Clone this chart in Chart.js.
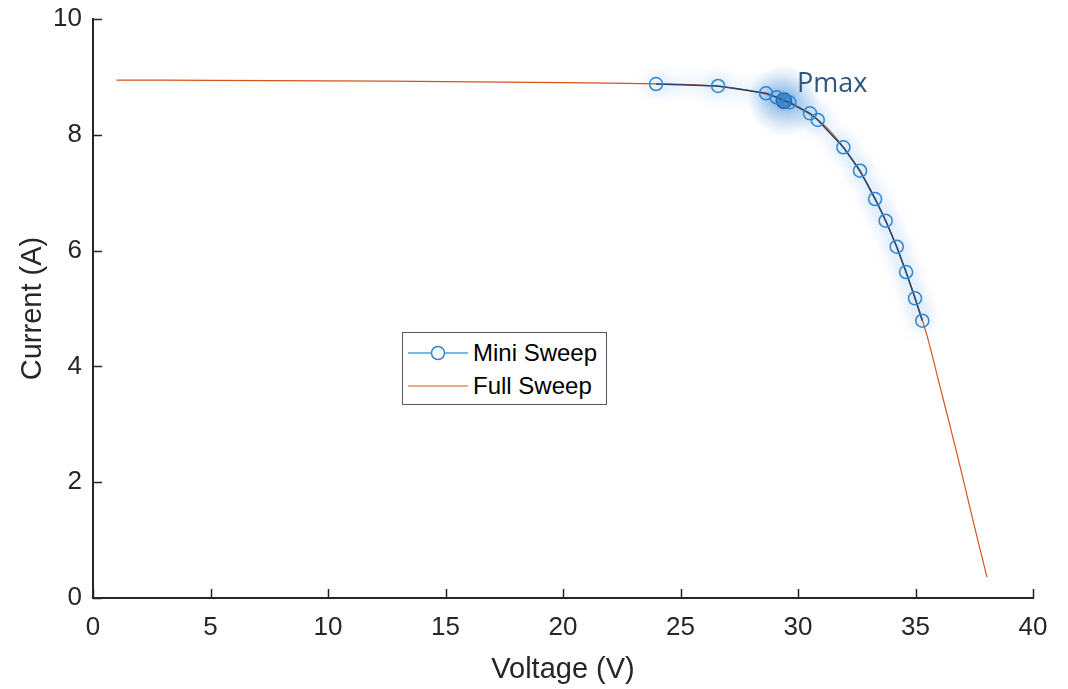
<!DOCTYPE html>
<html>
<head>
<meta charset="utf-8">
<script src="https://cdn.jsdelivr.net/npm/chart.js@4.4.1/dist/chart.umd.min.js"></script>
<style>
  html, body { margin: 0; padding: 0; background: #fff; }
  #wrap { position: relative; width: 1068px; height: 689px; }
  #legenda {
    position: absolute; left: 402px; top: 332px; width: 203px; height: 71px;
    border: 1px solid #5a5a5a; background: #fff;
    font-family: "Liberation Sans", Arial, sans-serif; font-size: 24px; color: #000;
  }
  #legenda .item { position: absolute; left: 0; height: 30px; display: flex; align-items: center; }
  #legenda svg { margin-left: 5px; margin-right: 5px; }
</style>
</head>
<body>
<div id="wrap">
  <canvas id="grafico" width="1068" height="689"></canvas>
  <div id="legenda">
    <div class="item" style="top:5px">
      <svg width="60" height="30"><line x1="0" y1="15" x2="60" y2="15" stroke="#4d9fdc" stroke-width="1.6"/><circle cx="30" cy="15" r="6.5" fill="#fff" stroke="#2e86d0" stroke-width="1.5"/></svg>
      <span>Mini Sweep</span>
    </div>
    <div class="item" style="top:38px">
      <svg width="60" height="30"><line x1="0" y1="15" x2="60" y2="15" stroke="#d95319" stroke-width="1.2"/></svg>
      <span>Full Sweep</span>
    </div>
  </div>
</div>
<script>
(function () {

  // Mini sweep (V, A)
  const miniV = [23.96, 26.60, 28.64, 29.09, 29.40, 29.63, 30.51, 30.84, 31.93, 32.64, 33.28, 33.73, 34.20, 34.60, 34.98, 35.29];
  const miniI = [8.877, 8.843, 8.717, 8.648, 8.589, 8.561, 8.371, 8.256, 7.784, 7.380, 6.891, 6.516, 6.067, 5.630, 5.176, 4.789];

  // Full sweep (V, A)
  const fullV = [1.0, 5, 10, 15, 20, 24, 26, 27, 28, 29, 30, 31, 32, 33, 34, 35, 35.5, 36, 36.5, 37, 37.5, 38.04];
  const fullI = [8.946, 8.94, 8.93, 8.92, 8.90, 8.88, 8.855, 8.82, 8.76, 8.66, 8.47, 8.21, 7.75, 7.12, 6.27, 5.16, 4.52, 3.72, 2.92, 2.10, 1.25, 0.36];

  // Pmax
  const pmaxV = [29.40];
  const pmaxI = [8.589];

  const xTicks = [0, 5, 10, 15, 20, 25, 30, 35, 40];
  const yTicks = [0, 2, 4, 6, 8, 10];

  const pares = (xs, ys) => xs.map((x, i) => ({ x: x, y: ys[i] }));

  const corEixo = "#262626";
  const fonte = "'Liberation Sans', Arial, sans-serif";

  // brilho azul na curva do mini sweep
  const brilho = {
    id: "brilho",
    beforeDatasetDraw(chart, args) {
      if (args.index === 0) {
        chart.ctx.save();
        chart.ctx.shadowColor = "rgba(60,140,225,0.85)";
        chart.ctx.shadowBlur = 16;
      }
    },
    afterDatasetDraw(chart, args) {
      if (args.index === 0) chart.ctx.restore();
    },
    beforeDatasetsDraw(chart) {
      // halo em volta do Pmax
      const ctx = chart.ctx;
      const px = chart.scales.x.getPixelForValue(pmaxV[0]);
      const py = chart.scales.y.getPixelForValue(pmaxI[0]);
      const g = ctx.createRadialGradient(px, py, 0, px, py, 36);
      g.addColorStop(0, "rgba(70,140,215,0.55)");
      g.addColorStop(1, "rgba(70,140,215,0)");
      ctx.save();
      ctx.fillStyle = g;
      ctx.beginPath();
      ctx.arc(px, py, 36, 0, Math.PI * 2);
      ctx.fill();
      ctx.restore();
    }
  };

  // ticks para dentro + rotulo Pmax
  const extras = {
    id: "extras",
    afterDraw(chart) {
      const ctx = chart.ctx;
      const a = chart.chartArea;
      const sx = chart.scales.x, sy = chart.scales.y;
      ctx.save();
      ctx.strokeStyle = corEixo;
      ctx.lineWidth = 1.5;
      ctx.beginPath();
      xTicks.forEach(t => {
        const p = Math.round(sx.getPixelForValue(t)) + 0.5;
        ctx.moveTo(p, a.bottom);
        ctx.lineTo(p, a.bottom - 9);
      });
      yTicks.forEach(t => {
        const p = Math.round(sy.getPixelForValue(t)) + 0.5;
        ctx.moveTo(a.left, p);
        ctx.lineTo(a.left + 9, p);
      });
      ctx.stroke();

      const px = sx.getPixelForValue(pmaxV[0]);
      const py = sy.getPixelForValue(pmaxI[0]);
      ctx.fillStyle = "#30577f";
      ctx.font = "27px 'Open Sans', sans-serif";
      ctx.textBaseline = "alphabetic";
      ctx.fillText("Pmax", px + 13, py - 9);
      ctx.restore();
    }
  };

  new Chart(document.getElementById("grafico"), {
    type: "scatter",
    data: {
      datasets: [
        {
          label: "Mini Sweep",
          data: pares(miniV, miniI),
          showLine: true,
          borderColor: "#22466e",
          borderWidth: 1.6,
          pointRadius: 6.5,
          pointBorderWidth: 1.5,
          pointBorderColor: "#2e86d0",
          pointBackgroundColor: "rgba(0,0,0,0)",
          tension: 0
        },
        {
          label: "Pmax",
          data: pares(pmaxV, pmaxI),
          showLine: false,
          pointRadius: 7.5,
          pointBorderWidth: 2,
          pointBorderColor: "#2b5d8f",
          pointBackgroundColor: "rgba(60,120,180,0.75)"
        },
        {
          label: "Full Sweep",
          data: pares(fullV, fullI),
          showLine: true,
          borderColor: "#d95319",
          borderWidth: 1.2,
          pointRadius: 0,
          tension: 0.3
        }
      ]
    },
    options: {
      responsive: false,
      animation: false,
      layout: { padding: { left: 0, right: 35, top: 19, bottom: 0 } },
      plugins: {
        legend: { display: false },
        tooltip: { enabled: false }
      },
      scales: {
        x: {
          type: "linear", min: 0, max: 40,
          afterBuildTicks: s => { s.ticks = xTicks.map(v => ({ value: v })); },
          afterFit: s => { s.height = 91; s.paddingLeft = 0; s.paddingRight = 0; },
          grid: { display: false, drawTicks: false },
          border: { display: true, color: corEixo, width: 2 },
          ticks: { color: corEixo, font: { family: fonte, size: 26 }, padding: 14, maxRotation: 0 },
          title: { display: true, text: "Voltage (V)", color: corEixo, font: { family: fonte, size: 29 }, padding: { top: 0, bottom: 2 } }
        },
        y: {
          type: "linear", min: 0, max: 10,
          afterBuildTicks: s => { s.ticks = yTicks.map(v => ({ value: v })); },
          afterFit: s => { s.width = 93; s.paddingTop = 0; s.paddingBottom = 0; },
          grid: { display: false, drawTicks: false },
          border: { display: true, color: corEixo, width: 2 },
          ticks: { color: corEixo, font: { family: fonte, size: 26 }, padding: 11 },
          title: { display: true, text: "Current (A)", color: corEixo, font: { family: fonte, size: 29 }, padding: { top: 16, bottom: 14 } }
        }
      }
    },
    plugins: [brilho, extras]
  });

})();
</script>
</body>
</html>
